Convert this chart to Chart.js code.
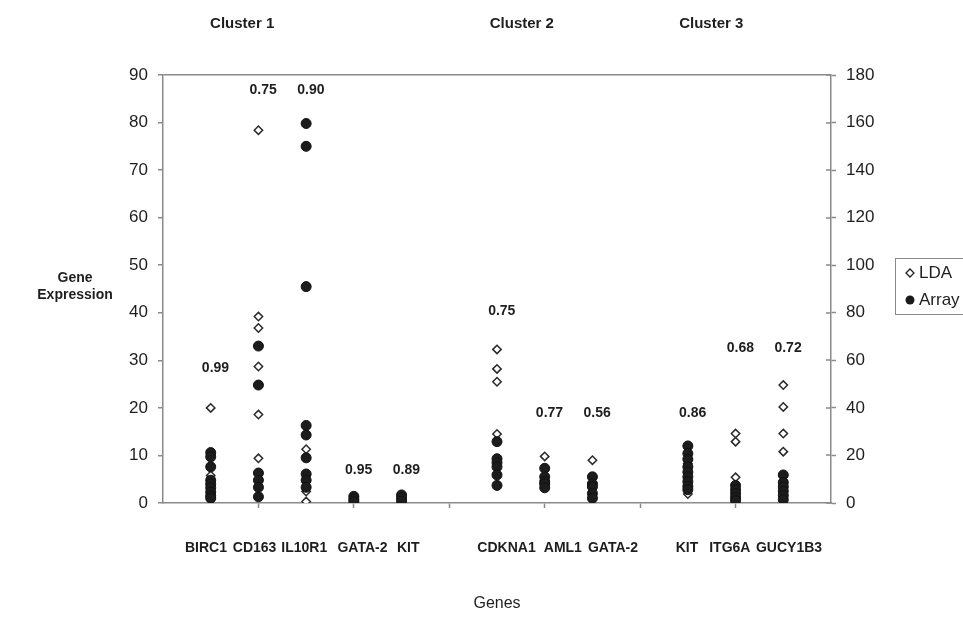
<!DOCTYPE html>
<html><head><meta charset="utf-8">
<script src="https://cdn.jsdelivr.net/npm/chart.js@4.4.0/dist/chart.umd.min.js"></script>
<style>html,body{margin:0;padding:0;background:#fff;overflow:hidden}canvas{display:block}</style>
</head><body>
<canvas id="c" width="963" height="617"></canvas>
<script>
// ---- data ----
const genes = ['BIRC1','CD163','IL10R1','GATA-2','KIT','CDKNA1','AML1','GATA-2','KIT','ITG6A','GUCY1B3'];
const genePositions = [1,2,3,4,5,7,8,9,11,12,13];
// where each gene name sits along the x axis (x-axis units)
const geneLabelPositions = [0.90,1.92,2.96,4.18,5.14,7.20,8.38,9.43,10.98,11.88,13.12];
// LDA values (left axis, 0-90)
const ldaValues = [
  [20.0, 5.8],
  [78.4, 39.2, 36.8, 28.7, 18.6, 9.4],
  [11.3, 2.4, 0.3],
  [0.5],
  [0.8],
  [32.3, 28.2, 25.5, 14.5],
  [9.8],
  [9.0, 4.3],
  [8.3, 1.9],
  [14.6, 12.9, 5.4],
  [24.8, 20.2, 14.6, 10.8, 4.6]
];
// Array values (right axis, 0-180)
const arrayValues = [
  [21.2, 19.4, 15.2, 9.6, 8.0, 6.4, 4.6, 3.0, 2.0],
  [66, 49.6, 12.6, 9.6, 6.6, 2.6],
  [159.6, 150, 91, 32.6, 28.6, 19.0, 12.2, 9.6, 6.6],
  [2.8, 1.6, 0.6],
  [3.4, 2.2, 0.8],
  [25.8, 18.6, 17.0, 15.2, 11.8, 7.4],
  [14.6, 11.0, 9.0, 8.0, 6.4],
  [11.0, 8.0, 6.8, 4.0, 2.0],
  [24.0, 20.8, 18.4, 15.2, 13.0, 11.0, 9.0, 7.0, 5.6],
  [7.4, 5.6, 4.0, 2.4, 1.0],
  [11.8, 8.6, 6.8, 5.0, 3.2, 1.4]
];
const correlations = ['0.99','0.75','0.90','0.95','0.89','0.75','0.77','0.56','0.86','0.68','0.72'];
const correlationLevels = [28.3, 86.8, 86.8, 7.0, 7.0, 40.3, 18.9, 18.9, 18.9, 32.5, 32.5];
const clusterNames = ['Cluster 1','Cluster 2','Cluster 3'];
const clusterCenters = [1.66, 7.52, 11.49];
const seriesNames = ['LDA','Array'];
const yTitle = ['Gene','Expression'];
const xTitle = 'Genes';

// ---- build points ----
const ldaPoints = [];
const arrayPoints = [];
genePositions.forEach((p,i)=>{
  ldaValues[i].forEach(v=>ldaPoints.push({x:p,y:v}));
  arrayValues[i].forEach(v=>arrayPoints.push({x:p,y:v}));
});

const SANS = "'Liberation Sans', Arial, Helvetica, sans-serif";
const AXIS = '#8a8a8a';
const TXT = '#1e1e1e';

const extras = {
  id:'extras',
  afterDraw(chart){
    const ctx = chart.ctx;
    const xs = chart.scales.x, yl = chart.scales.y, yr = chart.scales.y2;
    ctx.save();
    // inner ticks on right axis
    ctx.strokeStyle = AXIS; ctx.lineWidth = 1.5;
    yr.ticks.forEach(t=>{
      const py = Math.round(yr.getPixelForValue(t.value));
      ctx.beginPath(); ctx.moveTo(xs.right-5, py); ctx.lineTo(xs.right, py); ctx.stroke();
    });
    ctx.fillStyle = TXT;
    ctx.textAlign = 'center'; ctx.textBaseline = 'middle';
    // gene names
    ctx.font = "bold 14px " + SANS;
    genes.forEach((g,i)=>{
      ctx.fillText(g, xs.getPixelForValue(geneLabelPositions[i]), xs.top + 45);
    });
    // correlation labels
    ctx.font = "bold 14px " + SANS;
    correlations.forEach((c,i)=>{
      ctx.fillText(c, xs.getPixelForValue(genePositions[i]+0.1), yl.getPixelForValue(correlationLevels[i]));
    });
    // cluster titles
    ctx.font = "bold 15px " + SANS;
    clusterNames.forEach((n,i)=>{
      ctx.fillText(n, xs.getPixelForValue(clusterCenters[i]), 24);
    });
    // y title
    ctx.font = "bold 14px " + SANS;
    ctx.fillText(yTitle[0], 75, 278);
    ctx.fillText(yTitle[1], 75, 295);
    // legend
    ctx.strokeStyle = AXIS; ctx.lineWidth = 1;
    ctx.strokeRect(895.5, 258.5, 100, 56);
    ctx.lineWidth = 1.3; ctx.strokeStyle = '#222'; ctx.fillStyle = '#fff';
    ctx.beginPath();
    ctx.moveTo(906,273); ctx.lineTo(910,269); ctx.lineTo(914,273); ctx.lineTo(910,277); ctx.closePath();
    ctx.fill(); ctx.stroke();
    ctx.fillStyle = '#1a1a1a';
    ctx.beginPath(); ctx.arc(910,300,4.5,0,Math.PI*2); ctx.fill();
    ctx.fillStyle = TXT; ctx.textAlign = 'left';
    ctx.font = "17px " + SANS;
    ctx.fillText(seriesNames[0], 919, 273);
    ctx.fillText(seriesNames[1], 919, 300);
    ctx.restore();
  }
};

new Chart(document.getElementById('c'), {
  type:'scatter',
  data:{datasets:[
    {label:seriesNames[0], data:ldaPoints, yAxisID:'y', order:2,
     pointStyle:'rectRot', pointRadius:4.2, pointBackgroundColor:'#fff', pointBorderColor:'#2a2a2a', pointBorderWidth:1.5},
    {label:seriesNames[1], data:arrayPoints, yAxisID:'y2', order:1,
     pointStyle:'circle', pointRadius:5, pointBackgroundColor:'#1c1c1c', pointBorderColor:'#111', pointBorderWidth:1}
  ]},
  options:{
    responsive:false, animation:false, devicePixelRatio:1,
    layout:{padding:{top:75,left:0,right:0,bottom:0}},
    plugins:{legend:{display:false}, tooltip:{enabled:false}},
    scales:{
      x:{type:'linear', position:'bottom', min:0, max:14,
        afterFit(s){ s.height = 114; },
        ticks:{stepSize:1, autoSkip:false, maxRotation:0, minRotation:0, padding:32, color:TXT,
          font:{family:SANS, weight:'bold', size:14},
          callback(){ return ''; }},
        grid:{drawOnChartArea:false, drawTicks:true, tickLength:5, tickWidth:1.5,
          tickColor:(c)=> (c.tick && c.tick.value%2===0 && c.tick.value>0 && c.tick.value<14) ? AXIS : 'rgba(0,0,0,0)'},
        border:{color:AXIS, width:1.5},
        title:{display:true, text:xTitle, color:TXT, font:{family:SANS, size:16}, padding:{top:0,bottom:4}}
      },
      y:{position:'left', min:0, max:90,
        afterFit(s){ s.width = 163; },
        ticks:{stepSize:10, padding:10, color:TXT, font:{family:SANS, size:17}},
        grid:{drawOnChartArea:true, lineWidth:1.5,
          color:(c)=> (c.tick && c.tick.value===90) ? AXIS : 'rgba(0,0,0,0)',
          tickColor:AXIS, tickLength:5, tickWidth:1.5},
        border:{color:AXIS, width:1.5}
      },
      y2:{position:'right', min:0, max:180,
        afterFit(s){ s.width = 132; },
        ticks:{stepSize:20, padding:10, color:TXT, font:{family:SANS, size:17}},
        grid:{drawOnChartArea:false, tickColor:AXIS, tickLength:5, tickWidth:1.5},
        border:{color:AXIS, width:1.5}
      }
    }
  },
  plugins:[extras]
});
</script>
</body></html>
